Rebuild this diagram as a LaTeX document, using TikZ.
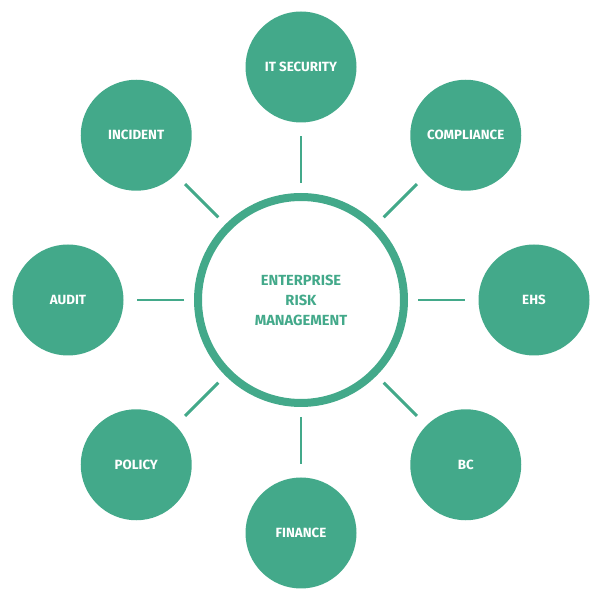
\documentclass[tikz,border=0pt]{standalone}
\usepackage{fontspec}
\setmainfont{Fira Sans}
\usetikzlibrary{positioning,calc}
\definecolor{erm}{HTML}{43A98A}
\begin{document}
\begin{tikzpicture}[x=0.75pt, y=0.75pt,
    hub/.style={circle, draw=erm, line width=6pt, minimum size=206*0.75pt, inner sep=0pt,
      align=center, text=erm, font=\bfseries\fontsize{11}{15}\selectfont},
    sat/.style={circle, fill=erm, minimum size=111*0.75pt, inner sep=0pt,
      text=white, font=\bfseries\fontsize{10}{12}\selectfont},
    link/.style={erm, line width=2.2pt}
    ]
\useasboundingbox (0,0) rectangle (600,600);

\node[hub] (erm) at (301,300) {ENTERPRISE\\RISK\\MANAGEMENT};

% satellites around the hub
\foreach \name/\ang/\txt in {sec/90/IT SECURITY, comp/45/COMPLIANCE, ehs/0/EHS,
        bcdr/-45/BC/DR, fin/-90/FINANCE, pol/-135/POLICY, aud/180/AUDIT,
        inc/135/INCIDENT}
{
    \node[sat] (\name) at ($(erm)+(\ang:233)$) {\txt};
    \coordinate (\name-a) at ($(erm)+(\ang:117)$);
    \coordinate (\name-b) at ($(erm)+(\ang:164)$);
    \draw[link] (\name-a)--(\name-b);
}
\end{tikzpicture}
\end{document}
